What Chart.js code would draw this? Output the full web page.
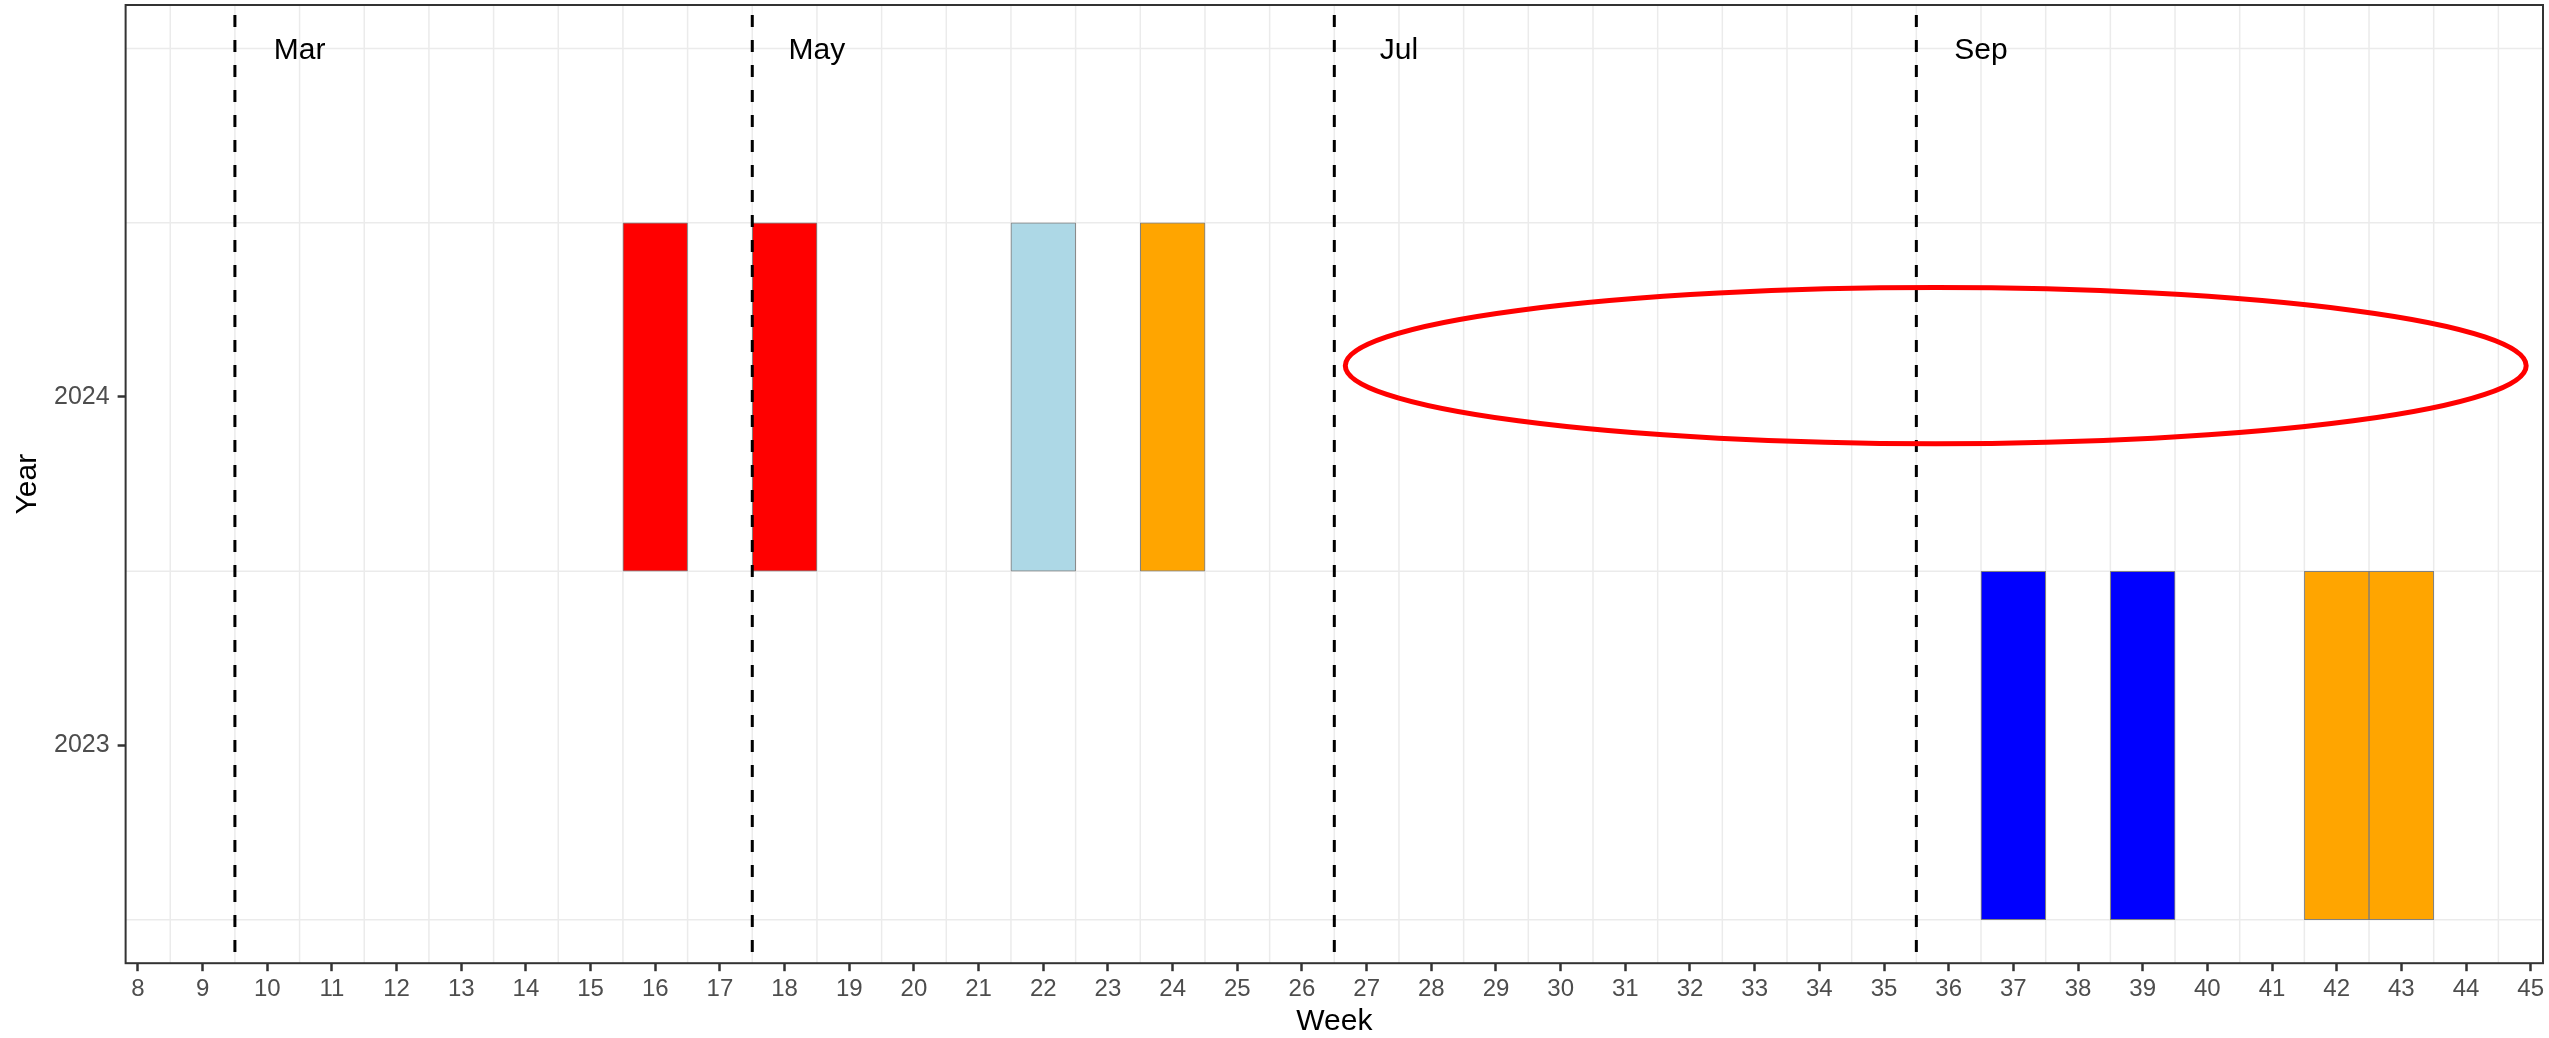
<!DOCTYPE html>
<html>
<head>
<meta charset="utf-8">
<script src="https://cdn.jsdelivr.net/npm/chart.js@4/dist/chart.umd.min.js"></script>
<style>
  html, body { margin: 0; padding: 0; background: #ffffff; }
  #wrap { width: 2549px; height: 1038px; }
</style>
</head>
<body>
<div id="wrap"><canvas id="weekChart"></canvas></div>
<script>
// filled weeks per year
const weeks2024 = [16, 18, 22, 24];
const colors2024 = ['red', 'red', 'lightblue', 'orange'];
const weeks2023 = [37, 39, 42, 43];
const colors2023 = ['blue', 'blue', 'orange', 'orange'];

// axis ticks
const yearTicks = [2023, 2024];
const weekTicks = [8, 9, 10, 11, 12, 13, 14, 15, 16, 17, 18, 19, 20, 21, 22, 23, 24, 25, 26,
  27, 28, 29, 30, 31, 32, 33, 34, 35, 36, 37, 38, 39, 40, 41, 42, 43, 44, 45];

// month boundaries and labels
const monthLines = [9.5, 17.5, 26.5, 35.5];
const monthNames = ['Mar', 'May', 'Jul', 'Sep'];
const monthLabelWeeks = [10.5, 18.5, 27.5, 36.5];
const monthLabelYear = 2025;

// highlight ellipse: centre week, centre year, half width (weeks), half height (years)
const highlight = [35.8, 2024.09, 9.13, 0.224];

// background grid sits between the ticks
const weekGrid = weekTicks.slice(0, -1).map(w => w + 0.5);
const yearGrid = [2022.5, 2023.5, 2024.5, 2025];

Chart.defaults.font.family = "'Liberation Sans', Arial, sans-serif";

function tiles(weeks, year) {
  return weeks.map(w => ({ x: w, y: [year - 0.5, year + 0.5] }));
}

function line(ctx, x1, y1, x2, y2) {
  ctx.beginPath();
  ctx.moveTo(x1, y1);
  ctx.lineTo(x2, y2);
  ctx.stroke();
}

const decor = {
  id: 'decor',
  beforeDatasetsDraw(chart) {
    const { ctx, chartArea: a, scales: { x, y } } = chart;
    ctx.save();
    ctx.strokeStyle = '#ebebeb';
    ctx.lineWidth = 1.5;
    weekGrid.forEach(v => {
      const px = x.getPixelForValue(v);
      line(ctx, px, a.top, px, a.bottom);
    });
    yearGrid.forEach(v => {
      const py = y.getPixelForValue(v);
      line(ctx, a.left, py, a.right, py);
    });
    ctx.restore();
  },
  afterDatasetsDraw(chart) {
    const { ctx, chartArea: a, scales: { x, y } } = chart;
    ctx.save();

    // dashed month lines
    ctx.strokeStyle = '#000000';
    ctx.lineWidth = 3;
    ctx.setLineDash([12, 13]);
    ctx.lineDashOffset = 15;
    monthLines.forEach(v => {
      const px = x.getPixelForValue(v);
      line(ctx, px, a.top, px, a.bottom);
    });
    ctx.setLineDash([]);

    // month names
    ctx.fillStyle = '#000000';
    ctx.font = "30px 'Liberation Sans', Arial, sans-serif";
    ctx.textAlign = 'center';
    ctx.textBaseline = 'alphabetic';
    monthNames.forEach((m, i) => {
      ctx.fillText(m, x.getPixelForValue(monthLabelWeeks[i]), y.getPixelForValue(monthLabelYear) + 10.7);
    });

    // highlight ellipse
    const [cw, cy, hw, hh] = highlight;
    const px = x.getPixelForValue(cw);
    const py = y.getPixelForValue(cy);
    const rx = Math.abs(x.getPixelForValue(cw + hw) - px);
    const ry = Math.abs(y.getPixelForValue(cy + hh) - py);
    ctx.strokeStyle = '#ff0000';
    ctx.lineWidth = 5;
    ctx.beginPath();
    ctx.ellipse(px, py, rx, ry, 0, 0, Math.PI * 2);
    ctx.stroke();

    // panel border
    ctx.strokeStyle = '#333333';
    ctx.lineWidth = 2;
    ctx.strokeRect(a.left, a.top, a.right - a.left, a.bottom - a.top);
    ctx.restore();
  }
};

const ctx = document.getElementById('weekChart').getContext('2d');
new Chart(ctx, {
  type: 'bar',
  data: {
    datasets: [
      {
        data: tiles(weeks2024, 2024),
        backgroundColor: colors2024,
        borderColor: 'rgba(0, 0, 0, 0.45)',
        borderWidth: 1,
        borderSkipped: false,
        grouped: false,
        barPercentage: 1,
        categoryPercentage: 1
      },
      {
        data: tiles(weeks2023, 2023),
        backgroundColor: colors2023,
        borderColor: 'rgba(0, 0, 0, 0.45)',
        borderWidth: 1,
        borderSkipped: false,
        grouped: false,
        barPercentage: 1,
        categoryPercentage: 1
      }
    ]
  },
  options: {
    responsive: true,
    maintainAspectRatio: false,
    animation: false,
    layout: { padding: { left: 10, top: 5, right: 6, bottom: 0 } },
    plugins: {
      legend: { display: false },
      tooltip: { enabled: false }
    },
    scales: {
      x: {
        type: 'linear',
        min: 7.81,
        max: 45.19,
        offset: false,
        afterBuildTicks: s => { s.ticks = weekTicks.map(v => ({ value: v })); },
        grid: { offset: false, drawOnChartArea: false, drawTicks: true, tickLength: 8, tickWidth: 2.5, tickColor: '#333333' },
        border: { display: false },
        ticks: {
          autoSkip: false, maxRotation: 0, padding: 4, color: '#4d4d4d',
          font: { size: 24 },
          callback: v => String(v)
        },
        title: { display: true, text: 'Week', color: '#000000', font: { size: 30, lineHeight: 0.9 }, padding: { top: 0, bottom: 3 } }
      },
      y: {
        type: 'linear',
        min: 2022.375,
        max: 2025.125,
        beginAtZero: false,
        afterBuildTicks: s => { s.ticks = yearTicks.map(v => ({ value: v })); },
        afterFit: s => { s.paddingTop = 0; s.paddingBottom = 0; },
        grid: { drawOnChartArea: false, drawTicks: true, tickLength: 8, tickWidth: 2.5, tickColor: '#333333' },
        border: { display: false },
        ticks: {
          padding: 8, color: '#4d4d4d',
          font: { size: 25 },
          callback: v => String(v)
        },
        title: { display: true, text: 'Year', color: '#000000', font: { size: 30 }, padding: { top: 0, bottom: 0 } }
      }
    }
  },
  plugins: [decor]
});
</script>
</body>
</html>
